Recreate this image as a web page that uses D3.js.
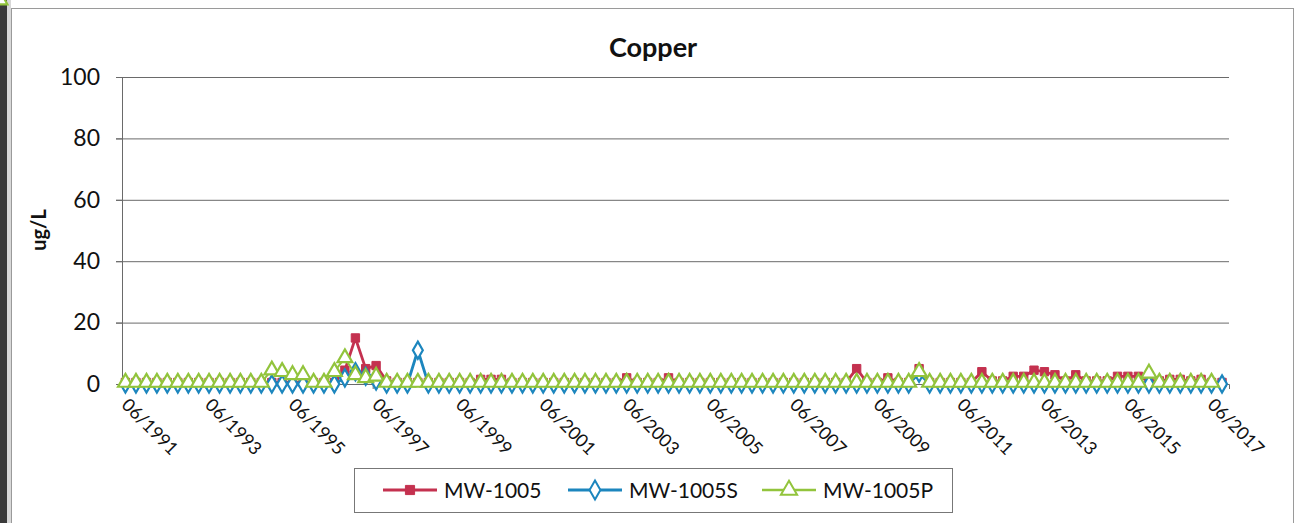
<!DOCTYPE html>
<html><head><meta charset="utf-8">
<script src="https://cdn.jsdelivr.net/npm/d3@7/dist/d3.min.js"></script>
<style>
html,body{margin:0;padding:0;background:#fff;}
svg{display:block;font-family:Lato,"Open Sans",sans-serif;}
</style></head>
<body>
<svg id="chart" width="1296" height="523"></svg>
<script>
// ---- DATA ----
const dates = [
"1991-07","1991-10","1992-01","1992-04","1992-07","1992-10","1993-01","1993-04","1993-07","1993-10","1994-01",
"1994-04","1994-07","1994-10","1995-01","1995-04","1995-07","1995-10","1996-01","1996-04","1996-07","1996-10",
"1997-01","1997-04","1997-07","1997-10","1998-01","1998-04","1998-07","1998-10","1999-01","1999-04","1999-07",
"1999-10","2000-01","2000-04","2000-07","2000-10","2001-01","2001-04","2001-07","2001-10","2002-01","2002-04",
"2002-07","2002-10","2003-01","2003-04","2003-07","2003-10","2004-01","2004-04","2004-07","2004-10","2005-01",
"2005-04","2005-07","2005-10","2006-01","2006-04","2006-07","2006-10","2007-01","2007-04","2007-07","2007-10",
"2008-01","2008-04","2008-07","2008-10","2009-01","2009-04","2009-07","2009-10","2010-01","2010-04","2010-07",
"2010-10","2011-01","2011-04","2011-07","2011-10","2012-01","2012-04","2012-07","2012-10","2013-01","2013-04",
"2013-07","2013-10","2014-01","2014-04","2014-07","2014-10","2015-01","2015-04","2015-07","2015-10","2016-01",
"2016-04","2016-07","2016-10","2017-01","2017-04","2017-07","2017-10"
];
const mw1005 = [
0.5,0.5,0.5,0.5,0.5,0.5,0.5,0.5,0.5,0.5,0.5,
0.5,0.5,0.5,0.5,0.5,0.5,0.5,0.5,0.5,0.5,4.5,
15,5,6,1,0.5,0.5,0.5,0.5,0.5,0.5,0.5,
0.5,1.5,1.5,1.5,0.5,0.5,0.5,0.5,0.5,0.5,0.5,
0.5,0.5,0.5,0.5,2,0.5,0.5,0.5,2,0.5,0.5,
0.5,0.5,0.5,0.5,0.5,0.5,0.5,0.5,0.5,0.5,0.5,
0.5,0.5,0.5,0.5,5,0.5,0.5,2,0.5,0.5,5,
0.5,0.5,0.5,0.5,0.5,4,1,1,2.5,2.5,4.5,
4,3,1,3,1,1,1,2.5,2.5,2.5,1,
1,1.5,1.5,1,1.5,0.5,0.5
];
const mw1005S = [
0,0,0,0,0,0,0,0,0,0,0,
0,0,0,0,0,0,0,0,0,0,2,
4,2.5,1,0,0,0,11,0,0,0,0,
0,0,0,0,0,0,0,0,0,0,0,
0,0,0,0,0,0,0,0,0,0,0,
0,0,0,0,0,0,0,0,0,0,0,
0,0,0,0,0,0,0,0,0,0,3.5,
0,0,0,0,0,0,0,0,0,0,0,
0,0,0,0,0,0,0,0,0,0,0,
0,0,0,0,0,0,0
];
const mw1005P = [
0.5,0.5,0.5,0.5,0.5,0.5,0.5,0.5,0.5,0.5,0.5,
0.5,0.5,0.5,4.5,4,3,3,0.5,0.5,4,8.5,
3,2,2.5,0.5,0.5,0.5,0.5,0.5,0.5,0.5,0.5,
0.5,0.5,0.5,0.5,0.5,0.5,0.5,0.5,0.5,0.5,0.5,
0.5,0.5,0.5,0.5,0.5,0.5,0.5,0.5,0.5,0.5,0.5,
0.5,0.5,0.5,0.5,0.5,0.5,0.5,0.5,0.5,0.5,0.5,
0.5,0.5,0.5,0.5,0.5,0.5,0.5,0.5,0.5,0.5,4,
0.5,0.5,0.5,0.5,0.5,0.5,0.5,0.5,0.5,0.5,0.5,
0.5,0.5,0.5,0.5,0.5,0.5,0.5,0.5,0.5,0.5,3.5,
0.5,0.5,0.5,0.5,0.5,0.5
];
const xTickLabels = ["06/1991","06/1993","06/1995","06/1997","06/1999","06/2001","06/2003",
  "06/2005","06/2007","06/2009","06/2011","06/2013","06/2015","06/2017"];
const yTicks = [0,20,40,60,80,100];
const seriesNames = ["MW-1005","MW-1005S","MW-1005P"];

// ---- CHART ----
const svg = d3.select("#chart");
const parse = d3.timeParse("%Y-%m");
const parseTick = d3.timeParse("%m/%Y");
const L = 122, R = 1229, T = 77, B = 384;

// page frame
svg.append("rect").attr("x",0).attr("y",0).attr("width",7).attr("height",523).attr("fill","#3a3a3a");
svg.append("rect").attr("x",7).attr("y",0).attr("width",4).attr("height",523).attr("fill","#d8d8d8");
svg.append("rect").attr("x",11.5).attr("y",8.5).attr("width",1282).attr("height",530)
  .attr("fill","none").attr("stroke","#9a9a9a").attr("stroke-width",1);

const x = d3.scaleTime().domain([parse("1991-06"), parse("2017-12")]).range([L, R]);
const y = d3.scaleLinear().domain([0,100]).range([B, T]);

// gridlines
svg.append("g").selectAll("line").data(yTicks.filter(v=>v>0)).join("line")
  .attr("x1",L-6).attr("x2",R).attr("y1",d=>y(d)+0.5).attr("y2",d=>y(d)+0.5)
  .attr("stroke","#6a6a6a").attr("stroke-width",1);

// y axis
const yAxis = svg.append("g").attr("transform",`translate(${L},0)`)
  .call(d3.axisLeft(y).tickValues(yTicks).tickSize(6).tickPadding(16));
yAxis.select(".domain").attr("stroke","#6a6a6a");
yAxis.selectAll(".tick line").attr("stroke","#6a6a6a");
yAxis.selectAll(".tick text").attr("font-size",23).attr("fill","#111").attr("font-family","Lato");

// x axis
const xAxis = svg.append("g").attr("transform",`translate(0,${B})`)
  .call(d3.axisBottom(x).tickValues(xTickLabels.map(parseTick)).tickSize(5).tickFormat(d3.timeFormat("%m/%Y")));
xAxis.select(".domain").attr("stroke","#6a6a6a");
xAxis.selectAll(".tick line").attr("stroke","#6a6a6a");
xAxis.selectAll(".tick text")
  .attr("font-size",18).attr("fill","#111").attr("font-family","Lato")
  .attr("text-anchor","start").attr("dy",0).attr("y",0)
  .attr("transform","translate(-2,22) rotate(45)");

// title & axis label
svg.append("text").attr("x",653).attr("y",57).attr("text-anchor","middle")
  .attr("font-size",27).attr("font-weight","bold").attr("fill","#111").text("Copper");
svg.append("text").attr("transform","translate(46,230) rotate(-90)").attr("text-anchor","middle")
  .attr("font-size",20).attr("font-weight","bold").attr("fill","#111").text("ug/L");

// series
const colors = ["#C4314F","#1C86BE","#92C43C"];
const values = [mw1005, mw1005S, mw1005P];
const line = d3.line().x(d=>x(d.date)).y(d=>y(d.v));
const symbols = [d3.symbolSquare, d3.symbolDiamond, d3.symbolTriangle];
const symSizes = [70, 85, 95];
const fills = [colors[0], "#fff", "#fff"];
const widths = [2.8, 2.8, 2];

values.forEach((vals,k)=>{
  const pts = dates.map((d,i)=>({date:parse(d), v:vals[i]}));
  const g = svg.append("g");
  g.append("path").datum(pts).attr("d",line).attr("fill","none")
    .attr("stroke",colors[k]).attr("stroke-width",widths[k]).attr("stroke-linejoin","round");
  g.selectAll("path.m").data(pts).join("path").attr("class","m")
    .attr("transform",d=>`translate(${x(d.date)},${y(d.v)})`)
    .attr("d",d3.symbol().type(symbols[k]).size(symSizes[k]))
    .attr("fill",fills[k]).attr("stroke",colors[k]).attr("stroke-width",k===0?1:2.2);
});

// legend
const lg = svg.append("g");
lg.append("rect").attr("x",354.5).attr("y",468.5).attr("width",598).attr("height",44)
  .attr("fill","#fff").attr("stroke","#777").attr("stroke-width",1);
const legX = [383, 568, 762];
seriesNames.forEach((n,k)=>{
  const g = lg.append("g").attr("transform",`translate(${legX[k]},490)`);
  g.append("line").attr("x1",0).attr("x2",54).attr("y1",0).attr("y2",0)
    .attr("stroke",colors[k]).attr("stroke-width",widths[k]+0.4);
  g.append("path").attr("transform","translate(27,0)")
    .attr("d",d3.symbol().type(symbols[k]).size(symSizes[k]*1.2))
    .attr("fill",fills[k]).attr("stroke",colors[k]).attr("stroke-width",k===0?1:2);
  g.append("text").attr("x",61).attr("y",7.5).attr("font-size",21).attr("fill","#111").text(n);
});
</script>
</body></html>
